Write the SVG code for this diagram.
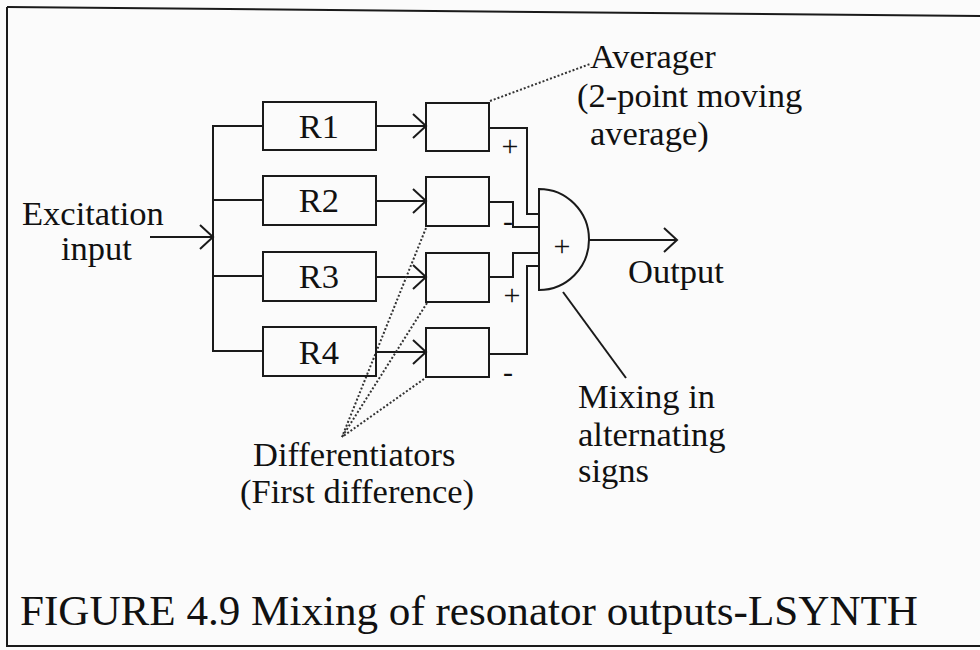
<svg xmlns="http://www.w3.org/2000/svg" width="980" height="650" viewBox="0 0 980 650">
<defs>
<marker id="chev" markerUnits="userSpaceOnUse" markerWidth="16" markerHeight="28" refX="14" refY="13" orient="auto">
<path d="M1,1 L14,13 L1,25" fill="none" stroke="#1a1a1a" stroke-width="2"/>
</marker>
</defs>
<style>
.ln{fill:none;stroke:#1a1a1a;stroke-width:2}
.box{fill:none;stroke:#1a1a1a;stroke-width:2}
.dot{fill:none;stroke:#333;stroke-width:2;stroke-dasharray:2 2}
.t{font-family:"Liberation Serif","Times New Roman",serif;font-size:34.5px;fill:#111}
.s{font-family:"Liberation Serif","Times New Roman",serif;font-size:30px;fill:#111;text-anchor:middle}
</style>
<rect x="0" y="0" width="980" height="650" fill="#fbfbfb"/>
<g id="frame">
<path class="ln" d="M7,7 L980,16" stroke-width="2.5"/>
<path class="ln" d="M7,7 L7,646 L980,646"/>
</g>
<g id="connectors">
<line class="ln" x1="150" y1="237" x2="213" y2="237" marker-end="url(#chev)"/>
<path class="ln" d="M263,126 H213 V351 H263"/>
<line class="ln" x1="213" y1="200" x2="263" y2="200"/>
<line class="ln" x1="213" y1="276" x2="263" y2="276"/>
<line class="ln" x1="376" y1="126" x2="426" y2="126" marker-end="url(#chev)"/>
<line class="ln" x1="376" y1="201" x2="426" y2="201" marker-end="url(#chev)"/>
<line class="ln" x1="376" y1="277" x2="426" y2="277" marker-end="url(#chev)"/>
<line class="ln" x1="376" y1="352" x2="426" y2="352" marker-end="url(#chev)"/>
<path class="ln" d="M489,128 H527 V214 H539"/>
<path class="ln" d="M489,202 H513 V227 H539"/>
<path class="ln" d="M489,277 H513 V253 H539"/>
<path class="ln" d="M489,354 H527 V266 H539"/>
<line class="ln" x1="589" y1="240" x2="677" y2="240" marker-end="url(#chev)"/>
<line class="ln" x1="563" y1="292" x2="626" y2="378" stroke-width="1.6"/>
<line class="dot" x1="490" y1="101" x2="590" y2="64"/>
<line class="dot" x1="426" y1="228" x2="342" y2="437"/>
<line class="dot" x1="427" y1="303" x2="342" y2="437"/>
<line class="dot" x1="424" y1="379" x2="342" y2="437"/>
</g>
<g id="R1"><rect class="box" x="263" y="102" width="113" height="48"/><text class="t" x="319" y="138" text-anchor="middle">R1</text></g>
<g id="R2"><rect class="box" x="263" y="176" width="113" height="49"/><text class="t" x="319" y="212" text-anchor="middle">R2</text></g>
<g id="R3"><rect class="box" x="263" y="252" width="113" height="49"/><text class="t" x="319" y="288" text-anchor="middle">R3</text></g>
<g id="R4"><rect class="box" x="263" y="327" width="113" height="49"/><text class="t" x="319" y="364" text-anchor="middle">R4</text></g>
<g id="D1"><rect class="box" x="426" y="103" width="63" height="48"/></g>
<g id="D2"><rect class="box" x="426" y="177" width="63" height="49"/></g>
<g id="D3"><rect class="box" x="426" y="253" width="63" height="49"/></g>
<g id="D4"><rect class="box" x="426" y="328" width="63" height="49"/></g>
<g id="mixer">
<path class="box" d="M539,189 A50,50.5 0 0 1 539,290 Z"/>
<text class="s" x="562" y="256">+</text>
</g>
<g id="signs">
<text class="s" x="510" y="156">+</text>
<text class="s" x="508" y="231">-</text>
<text class="s" x="512" y="305">+</text>
<text class="s" x="508" y="382">-</text>
</g>
<g id="labels">
<text class="t" x="22" y="225">Excitation</text>
<text class="t" x="61" y="260">input</text>
<text class="t" x="590" y="68">Averager</text>
<text class="t" x="577" y="107">(2-point moving</text>
<text class="t" x="590" y="145">average)</text>
<text class="t" x="628" y="283">Output</text>
<text class="t" x="578" y="408">Mixing in</text>
<text class="t" x="578" y="446">alternating</text>
<text class="t" x="578" y="482">signs</text>
<text class="t" x="253" y="466">Differentiators</text>
<text class="t" x="240" y="503">(First difference)</text>
<text class="t" x="20" y="625" style="font-size:42px" textLength="898" lengthAdjust="spacingAndGlyphs">FIGURE 4.9 Mixing of resonator outputs-LSYNTH</text>
</g>
</svg>
